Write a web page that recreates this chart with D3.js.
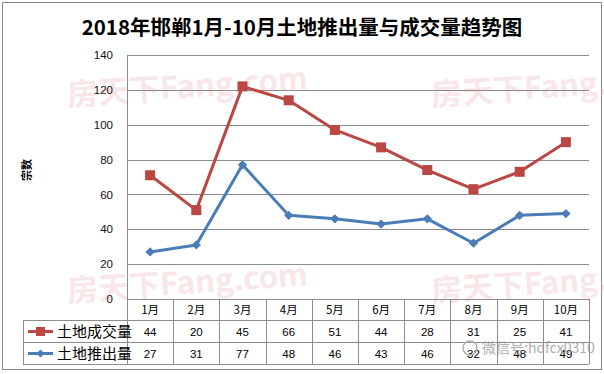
<!DOCTYPE html>
<html lang="zh">
<head>
<meta charset="utf-8">
<script src="https://d3js.org/d3.v7.min.js"></script>
<style>
  body { margin: 0; background: #fff; }
  svg { font-family: "Noto Sans CJK SC", "Noto Sans", sans-serif; }
  .grid line { stroke: #8c8c8c; stroke-width: 1; }
  .tbl line { stroke: #8c8c8c; stroke-width: 1; }
  .wm { fill: #e8a3ad; opacity: 0.26; font-weight: 700; }
</style>
</head>
<body>
<svg width="604" height="374"></svg>
<script>
// values
var months = ["1月", "2月", "3月", "4月", "5月", "6月", "7月", "8月", "9月", "10月"];
var seriesNames = ["土地成交量", "土地推出量"];
var deal = [44, 20, 45, 66, 51, 44, 28, 31, 25, 41];     // 土地成交量
var supply = [27, 31, 77, 48, 46, 43, 46, 32, 48, 49];   // 土地推出量
var yTicks = [0, 20, 40, 60, 80, 100, 120, 140];

var svg = d3.select("svg");
var W = 604, H = 374;
var pL = 127, pR = 589, pT = 55, pB = 299;

// outer frame
svg.append("rect")
    .attr("x", 2.5).attr("y", 2.5)
    .attr("width", 599).attr("height", 367)
    .attr("fill", "none").attr("stroke", "#8a8a8a");

// watermarks
var wmPos = [[68, 106], [432, 106], [68, 302], [432, 302]];
wmPos.forEach(function (p) {
  svg.append("text").attr("class", "wm")
      .attr("x", p[0]).attr("y", p[1])
      .attr("transform", "rotate(-4," + p[0] + "," + p[1] + ")")
      .style("font-size", "31px")
      .text("房天下Fang.com");
});

svg.append("text")
    .attr("x", W / 2).attr("y", 35)
    .attr("text-anchor", "middle")
    .style("font-size", "20.5px").style("font-weight", "700")
    .text("2018年邯郸1月-10月土地推出量与成交量趋势图");

var x = d3.scaleBand().domain(months).range([pL, pR]);
var y = d3.scaleLinear().domain([0, 140]).range([pB, pT]);

// stacked: red line sits on top of blue
var rows = months.map(function (m, i) { return { m: m, supply: supply[i], deal: deal[i] }; });
var stacked = d3.stack().keys(["supply", "deal"])(rows);

var grid = svg.append("g").attr("class", "grid");
grid.selectAll("line").data(yTicks.filter(function (t) { return t > 0; }))
  .enter().append("line")
    .attr("x1", pL).attr("x2", pR)
    .attr("y1", function (d) { return Math.round(y(d)) + 0.5; })
    .attr("y2", function (d) { return Math.round(y(d)) + 0.5; });

svg.append("g")
    .attr("transform", "translate(" + (pL - 14) + ",0)")
    .call(d3.axisLeft(y).tickValues(yTicks).tickSize(0).tickPadding(0))
    .call(function (g) { g.select(".domain").remove(); })
    .selectAll("text")
    .style("font-size", "11.5px").style("font-family", "'Liberation Sans', Arial, sans-serif")
    .attr("fill", "#111");

svg.append("text")
    .attr("transform", "translate(31,170) rotate(-90)")
    .attr("text-anchor", "middle")
    .style("font-size", "11px").style("font-weight", "700")
    .text("宗数");

var cx = function (d) { return x(d.data.m) + x.bandwidth() / 2; };
var line = d3.line().x(cx).y(function (d) { return y(d[1]); });

var colors = { supply: "#4a7db7", deal: "#bb4744" };

svg.append("path").datum(stacked[0])
    .attr("fill", "none").attr("stroke", colors.supply).attr("stroke-width", 3)
    .attr("stroke-linejoin", "round").attr("d", line);
svg.append("path").datum(stacked[1])
    .attr("fill", "none").attr("stroke", colors.deal).attr("stroke-width", 3)
    .attr("stroke-linejoin", "round").attr("d", line);

svg.selectAll(".dia").data(stacked[0]).enter().append("path")
    .attr("d", d3.symbol(d3.symbolDiamond2, 55))
    .attr("transform", function (d) { return "translate(" + cx(d) + "," + y(d[1]) + ")"; })
    .attr("fill", colors.supply);
svg.selectAll(".sq").data(stacked[1]).enter().append("rect")
    .attr("x", function (d) { return cx(d) - 5; })
    .attr("y", function (d) { return y(d[1]) - 5; })
    .attr("width", 10).attr("height", 10)
    .attr("fill", colors.deal);

// data table under the plot
var tbl = svg.append("g").attr("class", "tbl");
var rowY = [299, 320, 342, 364];
var legLeft = 23;

tbl.append("line").attr("x1", pL).attr("x2", pR).attr("y1", rowY[0] + 0.5).attr("y2", rowY[0] + 0.5);
[1, 2, 3].forEach(function (i) {
  tbl.append("line").attr("x1", legLeft).attr("x2", pR).attr("y1", rowY[i] + 0.5).attr("y2", rowY[i] + 0.5);
});
tbl.append("line").attr("x1", legLeft + 0.5).attr("x2", legLeft + 0.5).attr("y1", rowY[1]).attr("y2", rowY[3]);
tbl.append("line").attr("x1", pL + 0.5).attr("x2", pL + 0.5).attr("y1", pT).attr("y2", rowY[3]);
months.forEach(function (m) {
  var xx = Math.round(x(m) + x.bandwidth()) + 0.5;
  tbl.append("line").attr("x1", xx).attr("x2", xx).attr("y1", rowY[0]).attr("y2", rowY[3]);
});

var cellFont = "'Liberation Sans', Arial, sans-serif";
svg.selectAll(".mth").data(months).enter().append("text")
    .attr("x", function (d) { return x(d) + x.bandwidth() / 2; })
    .attr("y", 314).attr("text-anchor", "middle")
    .style("font-size", "11.5px")
    .text(function (d) { return d; });

[deal, supply].forEach(function (vals, r) {
  svg.selectAll(".v" + r).data(vals).enter().append("text")
      .attr("x", function (d, i) { return x(months[i]) + x.bandwidth() / 2; })
      .attr("y", rowY[r + 1] + 16).attr("text-anchor", "middle")
      .style("font-size", "11.5px").style("font-family", cellFont)
      .text(function (d) { return d; });
});

// legend keys in the table
[["deal", 0], ["supply", 1]].forEach(function (k) {
  var yy = (rowY[k[1] + 1] + rowY[k[1] + 2]) / 2 + 0.5;
  svg.append("line").attr("x1", 28).attr("x2", 53).attr("y1", yy).attr("y2", yy)
      .attr("stroke", colors[k[0]]).attr("stroke-width", 3);
  if (k[0] === "deal") {
    svg.append("rect").attr("x", 36).attr("y", yy - 4.5).attr("width", 9).attr("height", 9).attr("fill", colors.deal);
  } else {
    svg.append("path").attr("d", d3.symbol(d3.symbolDiamond2, 40))
        .attr("transform", "translate(40.5," + yy + ")").attr("fill", colors.supply);
  }
  svg.append("text").attr("x", 57).attr("y", yy + 5.5)
      .style("font-size", "15px")
      .text(seriesNames[k[1]]);
});

// wechat watermark
svg.append("text")
    .attr("x", 482).attr("y", 353)
    .style("font-size", "14px").attr("fill", "#9a9a9a").attr("opacity", 0.8)
    .text("微信号:hdfcx0310");
svg.append("circle").attr("cx", 470).attr("cy", 348).attr("r", 7)
    .attr("fill", "none").attr("stroke", "#b0b0b0").attr("stroke-width", 1.5);
</script>
</body>
</html>
